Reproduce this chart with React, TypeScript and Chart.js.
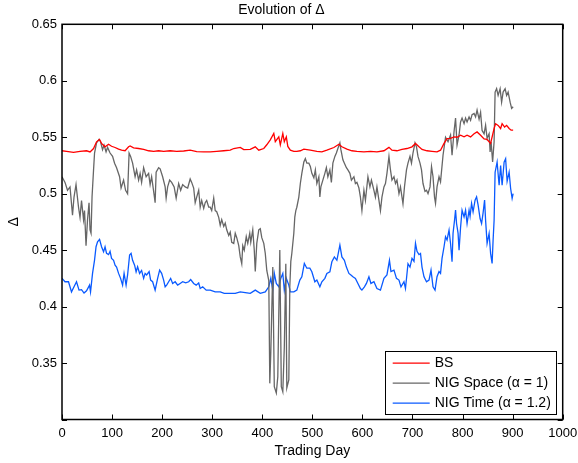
import { useEffect, useRef } from 'react';
import { Chart, registerables } from 'chart.js';

Chart.register(...registerables);

const CHART_TITLE = 'Evolution of Δ';
const X_TITLE = 'Trading Day';
const Y_TITLE = 'Δ';
const X_MIN = 0;
const X_MAX = 1000;
const X_STEP = 100;
const Y_MIN = 0.3;
const Y_MAX = 0.65;
const Y_STEP = 0.05;

const SERIES_LABELS = ['BS', 'NIG Space (α = 1)', 'NIG Time (α = 1.2)'];
const SERIES_COLORS = ['#ff0000', '#666666', '#0a5aff'];

const BS_DAYS = [0, 9, 23, 36, 49, 56, 63, 69, 75, 79, 86, 93, 99, 106, 113, 119, 126, 133, 136, 143, 153, 163, 173, 183, 193, 203, 216, 229, 243, 256, 269, 283, 296, 309, 323, 336, 343, 356, 363, 376, 386, 393, 403, 409, 416, 423, 426, 433, 436, 441, 444, 448, 451, 456, 463, 469, 476, 483, 496, 509, 519, 529, 543, 553, 559, 569, 579, 589, 603, 616, 629, 643, 653, 659, 669, 679, 689, 699, 706, 713, 719, 729, 739, 749, 756, 763, 769, 776, 783, 789, 796, 803, 809, 816, 823, 829, 836, 843, 849, 856, 863, 866, 871, 876, 879, 884, 888, 893, 897, 901];
const BS_DELTA = [0.538, 0.5375, 0.5365, 0.5375, 0.538, 0.537, 0.54, 0.5459, 0.548, 0.5445, 0.5415, 0.5438, 0.542, 0.5409, 0.5394, 0.5385, 0.538, 0.5415, 0.5423, 0.5406, 0.54, 0.5392, 0.538, 0.5375, 0.538, 0.5375, 0.538, 0.5375, 0.5378, 0.5385, 0.5372, 0.537, 0.537, 0.5375, 0.538, 0.5385, 0.54, 0.541, 0.539, 0.5392, 0.5415, 0.5385, 0.54, 0.5433, 0.5477, 0.5533, 0.546, 0.5503, 0.5433, 0.5533, 0.546, 0.5503, 0.5418, 0.5385, 0.5375, 0.5375, 0.538, 0.5394, 0.5385, 0.5375, 0.537, 0.5385, 0.5409, 0.5438, 0.5415, 0.5394, 0.538, 0.5375, 0.537, 0.5375, 0.537, 0.538, 0.541, 0.5385, 0.538, 0.5392, 0.54, 0.5415, 0.5445, 0.5415, 0.5392, 0.538, 0.5375, 0.537, 0.5385, 0.5445, 0.5488, 0.549, 0.5503, 0.55, 0.5518, 0.5503, 0.5518, 0.5503, 0.553, 0.5547, 0.5518, 0.5485, 0.548, 0.5445, 0.5577, 0.562, 0.5605, 0.5577, 0.562, 0.559, 0.5605, 0.5577, 0.5562, 0.5562];

const SPACE_DAYS = [0, 6, 11, 16, 21, 24, 28, 33, 36, 39, 43, 45, 48, 51, 54, 56, 58, 60, 63, 65, 69, 74, 77, 81, 84, 88, 91, 96, 101, 105, 109, 115, 118, 123, 127, 131, 134, 137, 141, 146, 149, 153, 156, 159, 163, 168, 173, 176, 179, 184, 186, 188, 193, 196, 201, 206, 208, 211, 215, 219, 224, 228, 233, 237, 241, 246, 251, 256, 259, 263, 266, 269, 273, 276, 279, 283, 286, 289, 293, 296, 299, 303, 306, 309, 313, 316, 319, 323, 326, 329, 333, 336, 339, 343, 346, 349, 353, 356, 359, 361, 364, 368, 371, 375, 377, 381, 384, 386, 389, 393, 396, 399, 403, 406, 409, 413, 415, 417, 421, 424, 428, 431, 435, 438, 441, 444, 447, 449, 453, 455, 457, 459, 463, 465, 467, 469, 473, 476, 479, 483, 486, 489, 493, 496, 499, 503, 506, 509, 513, 515, 517, 521, 525, 528, 531, 535, 538, 541, 545, 548, 551, 555, 557, 561, 564, 568, 571, 575, 578, 583, 586, 589, 593, 596, 599, 603, 606, 611, 615, 618, 623, 626, 629, 633, 636, 639, 643, 646, 649, 653, 656, 659, 663, 666, 669, 673, 676, 681, 684, 688, 691, 695, 698, 701, 705, 708, 711, 715, 718, 721, 725, 728, 731, 735, 738, 741, 744, 746, 749, 753, 756, 761, 766, 771, 776, 779, 783, 786, 789, 793, 796, 799, 803, 806, 809, 813, 816, 819, 823, 826, 829, 833, 836, 839, 843, 846, 849, 853, 855, 857, 860, 863, 865, 868, 871, 875, 878, 881, 885, 888, 891, 895, 898, 901];
const SPACE_DELTA = [0.515, 0.51, 0.503, 0.506, 0.481, 0.497, 0.508, 0.488, 0.479, 0.494, 0.477, 0.485, 0.454, 0.477, 0.492, 0.468, 0.465, 0.497, 0.521, 0.536, 0.545, 0.548, 0.546, 0.539, 0.543, 0.537, 0.541, 0.536, 0.533, 0.527, 0.523, 0.515, 0.505, 0.512, 0.503, 0.5, 0.536, 0.533, 0.527, 0.515, 0.521, 0.512, 0.518, 0.51, 0.523, 0.515, 0.518, 0.508, 0.515, 0.499, 0.492, 0.519, 0.523, 0.522, 0.515, 0.506, 0.496, 0.506, 0.512, 0.51, 0.506, 0.496, 0.509, 0.503, 0.508, 0.506, 0.505, 0.513, 0.51, 0.505, 0.492, 0.497, 0.503, 0.488, 0.494, 0.487, 0.492, 0.494, 0.488, 0.488, 0.485, 0.496, 0.485, 0.484, 0.479, 0.472, 0.477, 0.471, 0.474, 0.468, 0.463, 0.466, 0.457, 0.456, 0.465, 0.461, 0.454, 0.444, 0.438, 0.454, 0.45, 0.462, 0.456, 0.465, 0.457, 0.468, 0.45, 0.431, 0.456, 0.468, 0.469, 0.461, 0.456, 0.447, 0.432, 0.423, 0.332, 0.359, 0.435, 0.329, 0.3235, 0.338, 0.45, 0.329, 0.3246, 0.364, 0.438, 0.328, 0.335, 0.4175, 0.44, 0.447, 0.465, 0.4795, 0.485, 0.488, 0.497, 0.509, 0.518, 0.528, 0.531, 0.527, 0.527, 0.524, 0.518, 0.514, 0.521, 0.509, 0.515, 0.497, 0.506, 0.512, 0.518, 0.523, 0.515, 0.521, 0.51, 0.527, 0.533, 0.536, 0.54, 0.545, 0.539, 0.53, 0.527, 0.523, 0.521, 0.518, 0.512, 0.515, 0.509, 0.51, 0.505, 0.497, 0.485, 0.503, 0.494, 0.515, 0.506, 0.512, 0.503, 0.497, 0.506, 0.494, 0.485, 0.497, 0.506, 0.509, 0.518, 0.533, 0.521, 0.512, 0.515, 0.509, 0.512, 0.5, 0.506, 0.491, 0.506, 0.521, 0.527, 0.533, 0.527, 0.536, 0.545, 0.5415, 0.533, 0.527, 0.521, 0.509, 0.502, 0.503, 0.5, 0.506, 0.524, 0.515, 0.497, 0.4915, 0.506, 0.515, 0.5105, 0.534, 0.55, 0.546, 0.552, 0.534, 0.555, 0.567, 0.543, 0.552, 0.5635, 0.567, 0.562, 0.567, 0.5635, 0.568, 0.565, 0.57, 0.571, 0.568, 0.574, 0.566, 0.572, 0.556, 0.553, 0.5606, 0.549, 0.553, 0.537, 0.546, 0.528, 0.546, 0.59, 0.593, 0.587, 0.593, 0.581, 0.59, 0.593, 0.587, 0.59, 0.581, 0.5755, 0.577];

const TIME_DAYS = [0, 6, 13, 19, 24, 29, 34, 39, 44, 49, 55, 57, 61, 65, 68, 71, 75, 79, 83, 86, 89, 93, 96, 99, 103, 106, 109, 113, 117, 121, 124, 128, 131, 135, 138, 141, 145, 148, 151, 155, 159, 163, 166, 169, 174, 177, 181, 186, 191, 195, 199, 203, 206, 209, 213, 217, 221, 226, 231, 236, 241, 247, 253, 257, 263, 268, 273, 276, 281, 288, 296, 306, 316, 324, 336, 346, 356, 366, 376, 386, 396, 406, 413, 417, 421, 424, 428, 433, 437, 441, 444, 448, 453, 456, 463, 469, 475, 479, 484, 489, 495, 499, 505, 509, 515, 519, 525, 529, 535, 539, 544, 549, 555, 559, 564, 568, 573, 577, 581, 586, 591, 596, 599, 604, 608, 613, 617, 623, 629, 636, 643, 649, 654, 657, 663, 668, 673, 677, 683, 686, 691, 695, 699, 703, 706, 709, 713, 716, 719, 723, 728, 733, 737, 741, 745, 749, 753, 756, 759, 763, 766, 769, 773, 776, 779, 781, 784, 786, 788, 791, 793, 796, 799, 803, 806, 809, 813, 815, 818, 821, 825, 828, 831, 835, 838, 841, 844, 846, 849, 853, 856, 859, 861, 863, 865, 869, 873, 876, 879, 883, 886, 889, 893, 896, 899, 901];
const TIME_DELTA = [0.425, 0.422, 0.422, 0.413, 0.4175, 0.422, 0.4146, 0.415, 0.412, 0.414, 0.419, 0.413, 0.4294, 0.4412, 0.453, 0.4574, 0.4595, 0.453, 0.4485, 0.453, 0.4471, 0.446, 0.449, 0.4427, 0.441, 0.4367, 0.435, 0.4294, 0.425, 0.419, 0.4294, 0.419, 0.428, 0.4456, 0.4471, 0.441, 0.4367, 0.4308, 0.4353, 0.4294, 0.432, 0.425, 0.4294, 0.428, 0.431, 0.4235, 0.422, 0.4146, 0.425, 0.4323, 0.4294, 0.4235, 0.4175, 0.419, 0.422, 0.425, 0.4205, 0.422, 0.419, 0.4205, 0.422, 0.421, 0.422, 0.424, 0.4205, 0.419, 0.421, 0.416, 0.4175, 0.4146, 0.4146, 0.413, 0.413, 0.4117, 0.4117, 0.4117, 0.413, 0.4123, 0.4117, 0.4146, 0.4117, 0.413, 0.4175, 0.425, 0.4146, 0.4294, 0.4205, 0.4175, 0.425, 0.4294, 0.4146, 0.425, 0.419, 0.413, 0.413, 0.4146, 0.4235, 0.4264, 0.4382, 0.434, 0.434, 0.4308, 0.422, 0.4235, 0.4175, 0.422, 0.425, 0.4294, 0.4308, 0.4397, 0.444, 0.441, 0.4545, 0.444, 0.441, 0.435, 0.4294, 0.428, 0.4264, 0.425, 0.4205, 0.416, 0.4146, 0.4175, 0.4205, 0.4264, 0.4205, 0.422, 0.416, 0.4146, 0.425, 0.428, 0.441, 0.431, 0.4323, 0.425, 0.4235, 0.4175, 0.422, 0.416, 0.438, 0.435, 0.4427, 0.44, 0.456, 0.449, 0.446, 0.447, 0.435, 0.4264, 0.422, 0.4235, 0.4323, 0.4175, 0.4146, 0.4264, 0.431, 0.4294, 0.4427, 0.453, 0.4618, 0.459, 0.4677, 0.4559, 0.4397, 0.465, 0.4766, 0.4854, 0.4736, 0.465, 0.45, 0.47, 0.4854, 0.4795, 0.4854, 0.4736, 0.4854, 0.48, 0.4913, 0.484, 0.4943, 0.4972, 0.49, 0.478, 0.4736, 0.483, 0.4943, 0.4765, 0.456, 0.4648, 0.4471, 0.4382, 0.4589, 0.4765, 0.519, 0.528, 0.5075, 0.525, 0.5075, 0.528, 0.531, 0.511, 0.519, 0.5046, 0.4958, 0.5];

const FONT = '"Liberation Sans", Arial, Helvetica, sans-serif';

function toPoints(days: number[], values: number[]) {
  return days.map((d, i) => ({ x: d, y: values[i] }));
}

const matlabFrame = {
  id: 'matlabFrame',
  afterDatasetsDraw(chart: any) {
    const { ctx, chartArea: a, scales } = chart;
    const tl = 5;
    ctx.save();
    ctx.strokeStyle = '#000';
    ctx.lineWidth = 1;
    ctx.beginPath();
    scales.x.ticks.forEach((t: any) => {
      const px = Math.round(scales.x.getPixelForValue(t.value)) + 0.5;
      ctx.moveTo(px, a.bottom);
      ctx.lineTo(px, a.bottom - tl);
      ctx.moveTo(px, a.top);
      ctx.lineTo(px, a.top + tl);
    });
    scales.y.ticks.forEach((t: any) => {
      const py = Math.round(scales.y.getPixelForValue(t.value)) + 0.5;
      ctx.moveTo(a.left, py);
      ctx.lineTo(a.left + tl, py);
      ctx.moveTo(a.right, py);
      ctx.lineTo(a.right - tl, py);
    });
    ctx.stroke();
    ctx.lineWidth = 1.5;
    ctx.strokeRect(a.left, a.top, a.right - a.left, a.bottom - a.top);

    // legend
    const datasets = chart.data.datasets;
    ctx.font = '14px ' + FONT;
    let textW = 0;
    datasets.forEach((ds: any) => {
      textW = Math.max(textW, ctx.measureText(ds.label).width);
    });
    const padL = 7.3;
    const lineLen = 37;
    const gap = 5;
    const padR = 5.5;
    const boxW = padL + lineLen + gap + textW + padR;
    const boxH = 63.3;
    const x0 = a.right - 6.4 - boxW;
    const y0 = a.bottom - 5.5 - boxH;
    ctx.fillStyle = '#fff';
    ctx.fillRect(x0, y0, boxW, boxH);
    ctx.lineWidth = 1;
    ctx.strokeStyle = '#000';
    ctx.strokeRect(Math.round(x0) + 0.5, Math.round(y0) + 0.5, Math.round(boxW), Math.round(boxH));
    datasets.forEach((ds: any, i: number) => {
      const cy = y0 + 12.5 + i * 20;
      ctx.strokeStyle = ds.borderColor;
      ctx.lineWidth = 1.3;
      ctx.beginPath();
      ctx.moveTo(x0 + padL, cy);
      ctx.lineTo(x0 + padL + lineLen, cy);
      ctx.stroke();
      ctx.fillStyle = '#000';
      ctx.textAlign = 'left';
      ctx.textBaseline = 'middle';
      ctx.fillText(ds.label, x0 + padL + lineLen + gap, cy);
    });
    ctx.restore();
  },
};

export default function App() {
  const canvasRef = useRef<HTMLCanvasElement | null>(null);

  useEffect(() => {
    document.body.style.margin = '0';
    const canvas = canvasRef.current;
    if (!canvas) return;
    const seriesDays = [BS_DAYS, SPACE_DAYS, TIME_DAYS];
    const seriesValues = [BS_DELTA, SPACE_DELTA, TIME_DELTA];
    const chart = new Chart(canvas, {
      type: 'line',
      data: {
        datasets: SERIES_LABELS.map((label, i) => ({
          label,
          data: toPoints(seriesDays[i], seriesValues[i]),
          borderColor: SERIES_COLORS[i],
          backgroundColor: SERIES_COLORS[i],
          borderWidth: 1.3,
          pointRadius: 0,
          tension: 0,
          fill: false,
        })),
      },
      options: {
        animation: false,
        responsive: true,
        maintainAspectRatio: false,
        layout: { padding: { left: 0, right: 15.3, top: 0, bottom: 0 } },
        plugins: {
          legend: { display: false },
          tooltip: { enabled: false },
          title: {
            display: true,
            text: CHART_TITLE,
            color: '#000',
            font: { family: FONT, size: 14, weight: 'normal' },
            padding: { top: 1.6, bottom: 5.9 },
          },
        },
        scales: {
          x: {
            type: 'linear',
            min: X_MIN,
            max: X_MAX,
            ticks: {
              stepSize: X_STEP,
              autoSkip: false,
              maxRotation: 0,
              padding: 6,
              color: '#000',
              font: { family: FONT, size: 13 },
              callback: (v: any) => String(Number(v)),
            },
            grid: { display: false, drawTicks: false, tickLength: 0 },
            border: { display: false },
            title: {
              display: true,
              text: X_TITLE,
              color: '#000',
              font: { family: FONT, size: 14 },
              padding: { top: 0, bottom: 3.6 },
            },
            afterFit: (scale: any) => {
              scale.height = 43.5;
              scale.paddingLeft = 0;
              scale.paddingRight = 14;
            },
          },
          y: {
            type: 'linear',
            min: Y_MIN,
            max: Y_MAX,
            ticks: {
              stepSize: Y_STEP,
              autoSkip: false,
              padding: 5,
              color: '#000',
              font: { family: FONT, size: 13 },
              callback: (v: any) => {
                const n = Number(v);
                if (Math.abs(n - Y_MIN) < 1e-9) return '';
                return String(Number(n.toFixed(2)));
              },
            },
            grid: { display: false, drawTicks: false, tickLength: 0 },
            border: { display: false },
            title: {
              display: true,
              text: Y_TITLE,
              color: '#000',
              font: { family: FONT, size: 14 },
              padding: { top: 5.6, bottom: 0 },
            },
            afterFit: (scale: any) => {
              scale.width = 62;
            },
          },
        },
      },
      plugins: [matlabFrame],
    });
    return () => chart.destroy();
  }, []);

  return (
    <div style={{ width: 578, height: 463, position: 'relative', background: '#fff' }}>
      <canvas ref={canvasRef} />
    </div>
  );
}
